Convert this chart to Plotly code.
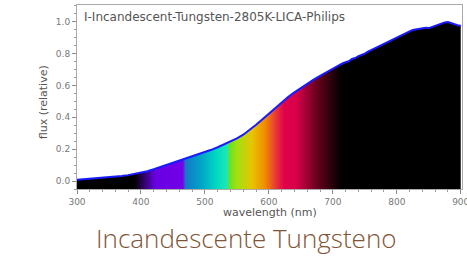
import plotly.graph_objects as go

# ---- data ----
wavelength = [300, 310, 320, 330, 340, 350, 360, 370, 380, 390,
              400, 410, 420, 430, 440, 450, 460, 470, 480, 490,
              500, 510, 520, 530, 540, 550, 560, 570, 580, 590,
              600, 610, 620, 630, 640, 650, 660, 670, 680, 690,
              700, 705, 710, 715, 720, 725, 730, 735, 740, 745,
              750, 755, 760, 765, 770, 775, 780, 785, 790, 795,
              800, 805, 810, 815, 820, 825, 830, 835, 840, 845,
              850, 855, 860, 865, 870, 875, 880, 885, 890, 895, 900]
flux = [0.008, 0.011, 0.014, 0.017, 0.020, 0.023, 0.027, 0.031, 0.037, 0.044,
        0.052, 0.062, 0.074, 0.087, 0.100, 0.113, 0.126, 0.139, 0.152, 0.166,
        0.181, 0.196, 0.212, 0.229, 0.248, 0.268, 0.291, 0.320, 0.353, 0.388,
        0.424, 0.459, 0.494, 0.527, 0.557, 0.585, 0.612, 0.637, 0.660, 0.683,
        0.705, 0.716, 0.724, 0.738, 0.746, 0.752, 0.766, 0.772, 0.784, 0.790,
        0.800, 0.812, 0.822, 0.830, 0.842, 0.851, 0.860, 0.873, 0.882, 0.889,
        0.901, 0.910, 0.918, 0.930, 0.940, 0.948, 0.951, 0.957, 0.958, 0.962,
        0.960, 0.968, 0.975, 0.984, 0.990, 0.996, 0.998, 0.990, 0.982, 0.978, 0.975]

# spectral colour stops (wavelength nm, colour)
spec_nm = [300, 388, 420, 462, 466, 490, 515, 530, 534, 546, 568, 588, 606, 618, 636, 665, 705, 900]
spec_col = ['#000000', '#000000', '#6a00e4', '#7200e8', '#1478c8', '#00a4c8', '#00dcc0',
            '#1ee8b4', '#6ee01c', '#a4e010', '#e8c400', '#f08c00', '#e8303c', '#e0004a',
            '#d8004a', '#700020', '#000000', '#000000']

X_RANGE = [300, 902]
Y_RANGE = [-0.05, 1.105]
chart_label = 'I-Incandescent-Tungsten-2805K-LICA-Philips'
caption = 'Incandescente Tungsteno'
x_title = 'wavelength (nm)'
y_title = 'flux (relative)'

lo, hi = wavelength[0], wavelength[-1]
colorscale = [[(w - lo) / (hi - lo), c] for w, c in zip(spec_nm, spec_col)]

fig = go.Figure()
# baseline at bottom of the axis so the fill reaches the frame
fig.add_trace(go.Scatter(x=[lo, hi], y=[Y_RANGE[0], Y_RANGE[0]], mode='lines',
                         line=dict(width=0), hoverinfo='skip', showlegend=False))
fig.add_trace(go.Scatter(x=wavelength, y=flux, mode='lines', fill='tonexty',
                         fillgradient=dict(type='horizontal', colorscale=colorscale,
                                           start=lo, stop=hi),
                         line=dict(width=0), showlegend=False, hoverinfo='skip'))
fig.add_trace(go.Scatter(x=wavelength, y=flux, mode='lines',
                         line=dict(color='#1a1aff', width=2), showlegend=False))

tick_font = dict(family='DejaVu Sans', size=9, color='#777777')
fig.update_xaxes(range=X_RANGE, dtick=100, tick0=300, showgrid=False, zeroline=False,
                 showline=True, linecolor='#aaaaaa', linewidth=1, mirror=True,
                 ticks='outside', ticklen=4, tickcolor='#888888', tickfont=tick_font,
                 ticklabeloverflow='allow',
                 minor=dict(ticks='outside', dtick=20, ticklen=2, tickcolor='#999999'))
fig.update_yaxes(range=Y_RANGE, dtick=0.2, tick0=0, tickformat='.1f', showgrid=False,
                 zeroline=False, showline=True, linecolor='#aaaaaa', linewidth=1, mirror=True,
                 ticks='outside', ticklen=4, tickcolor='#888888', tickfont=tick_font,
                 minor=dict(ticks='outside', dtick=0.05, ticklen=2, tickcolor='#999999'))

fig.update_layout(
    width=470, height=256,
    margin=dict(l=77, r=0, t=5, b=67),
    paper_bgcolor='white', plot_bgcolor='white',
    annotations=[
        dict(text=chart_label, xref='paper', yref='paper', x=0.013, y=0.935,
             xanchor='left', yanchor='middle', showarrow=False,
             font=dict(family='DejaVu Sans', size=12, color='#555555')),
        dict(text=x_title, xref='paper', yref='paper', x=0.502, y=-0.13,
             xanchor='center', yanchor='middle', showarrow=False,
             font=dict(family='DejaVu Sans', size=11, color='#555555')),
        dict(text=y_title, xref='paper', yref='paper', x=-0.085, y=0.473,
             xanchor='center', yanchor='middle', showarrow=False, textangle=-90,
             font=dict(family='DejaVu Sans', size=11, color='#555555')),
        dict(text=caption, xref='paper', yref='paper', x=0.440, y=-0.266,
             xanchor='center', yanchor='middle', showarrow=False,
             font=dict(family='Open Sans', size=26, color='#805535', weight=300)),
    ],
)

fig.write_html('out.html', config={'displayModeBar': False},
               post_script="document.body.style.margin='0';"
                           "document.body.style.overflow='hidden';"
                           "document.documentElement.style.overflow='hidden';")
